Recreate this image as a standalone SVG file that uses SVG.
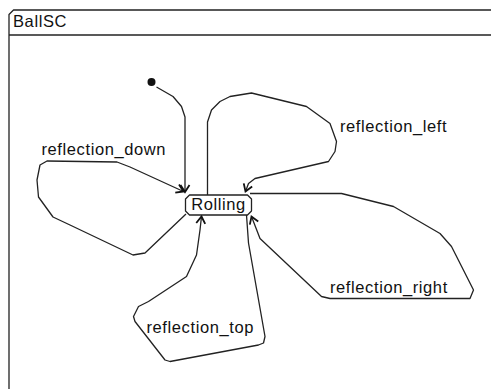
<svg xmlns="http://www.w3.org/2000/svg" width="491" height="389" viewBox="0 0 491 389">
  <style>
    .ln { fill: none; stroke: #222; stroke-width: 1.3; stroke-linejoin: round; }
    .txt { font-family: "Liberation Sans", Arial, sans-serif; font-size: 16.5px; letter-spacing: 0.6px; fill: #111; }
  </style>
  <defs>
    <marker id="arrow" viewBox="-10 -6 12 12" markerWidth="12" markerHeight="12" refX="0" refY="0" orient="auto" markerUnits="userSpaceOnUse">
      <path d="M-7,-4.5 L0,0 L-7,4.5" fill="none" stroke="#111" stroke-width="1.8"/>
    </marker>
  </defs>

  <!-- statechart frame -->
  <g id="frame">
    <path class="ln" d="M9,395 V14.5 L13.5,10 H500"/>
    <path class="ln" d="M9,35 H500"/>
    <text class="txt" x="13" y="27">BallSC</text>
  </g>

  <!-- initial pseudostate -->
  <g id="initial">
    <circle cx="151.5" cy="82" r="4" fill="#111"/>
  </g>

  <!-- state -->
  <g id="rolling">
    <path class="ln" d="M189.5,195 H247.5 L251.5,199 V211 L247.5,215 H189.5 L185.5,211 V199 Z" fill="#fff"/>
    <text class="txt" x="218.5" y="210" text-anchor="middle">Rolling</text>
  </g>

  <!-- transitions -->
  <g id="connectors">
    <path class="ln" marker-end="url(#arrow)" d="M156.5,87 L173,96.5 L181.5,106.5 L185,117 V192"/>
    <path class="ln" marker-end="url(#arrow)" d="M186,214 L145,253 L133,255 L70,225 L53,217 L38.5,197 L37,180 L40,165 L47,161 L117,162 L130,167 L183.5,191.5"/>
    <path class="ln" marker-end="url(#arrow)" d="M207.5,195 V122 L211.5,110 L220,101.5 L230,96.5 L251.5,93 L306.5,106.5 L330,123.5 L336.5,141.5 L335,151.5 L328.5,161.5 L255,178.5 L248.5,183.5 L245.5,191.5"/>
    <path class="ln" marker-end="url(#arrow)" d="M250,193.5 H341.5 L393.5,206.5 L440,233.5 L451.5,246.5 L473.5,290 L470,298.5 H330 L321.5,296.5 L260,238.5 L251.5,216.5"/>
    <path class="ln" marker-end="url(#arrow)" d="M246.5,215 L248.5,243 L265,336.5 L263.5,343 L258.5,345 L170,361.5 L165,360 L135,321.5 L133.5,316.5 L138.5,306.5 L148.5,301.5 L186.5,276.5 L196.5,255 L200,230 L201.5,216.5"/>
  </g>

  <!-- transition labels -->
  <g id="labels">
    <text class="txt" x="41.5" y="154.5">reflection_down</text>
    <text class="txt" x="340" y="131.5">reflection_left</text>
    <text class="txt" x="330" y="293">reflection_right</text>
    <text class="txt" x="146.5" y="333">reflection_top</text>
  </g>
</svg>
